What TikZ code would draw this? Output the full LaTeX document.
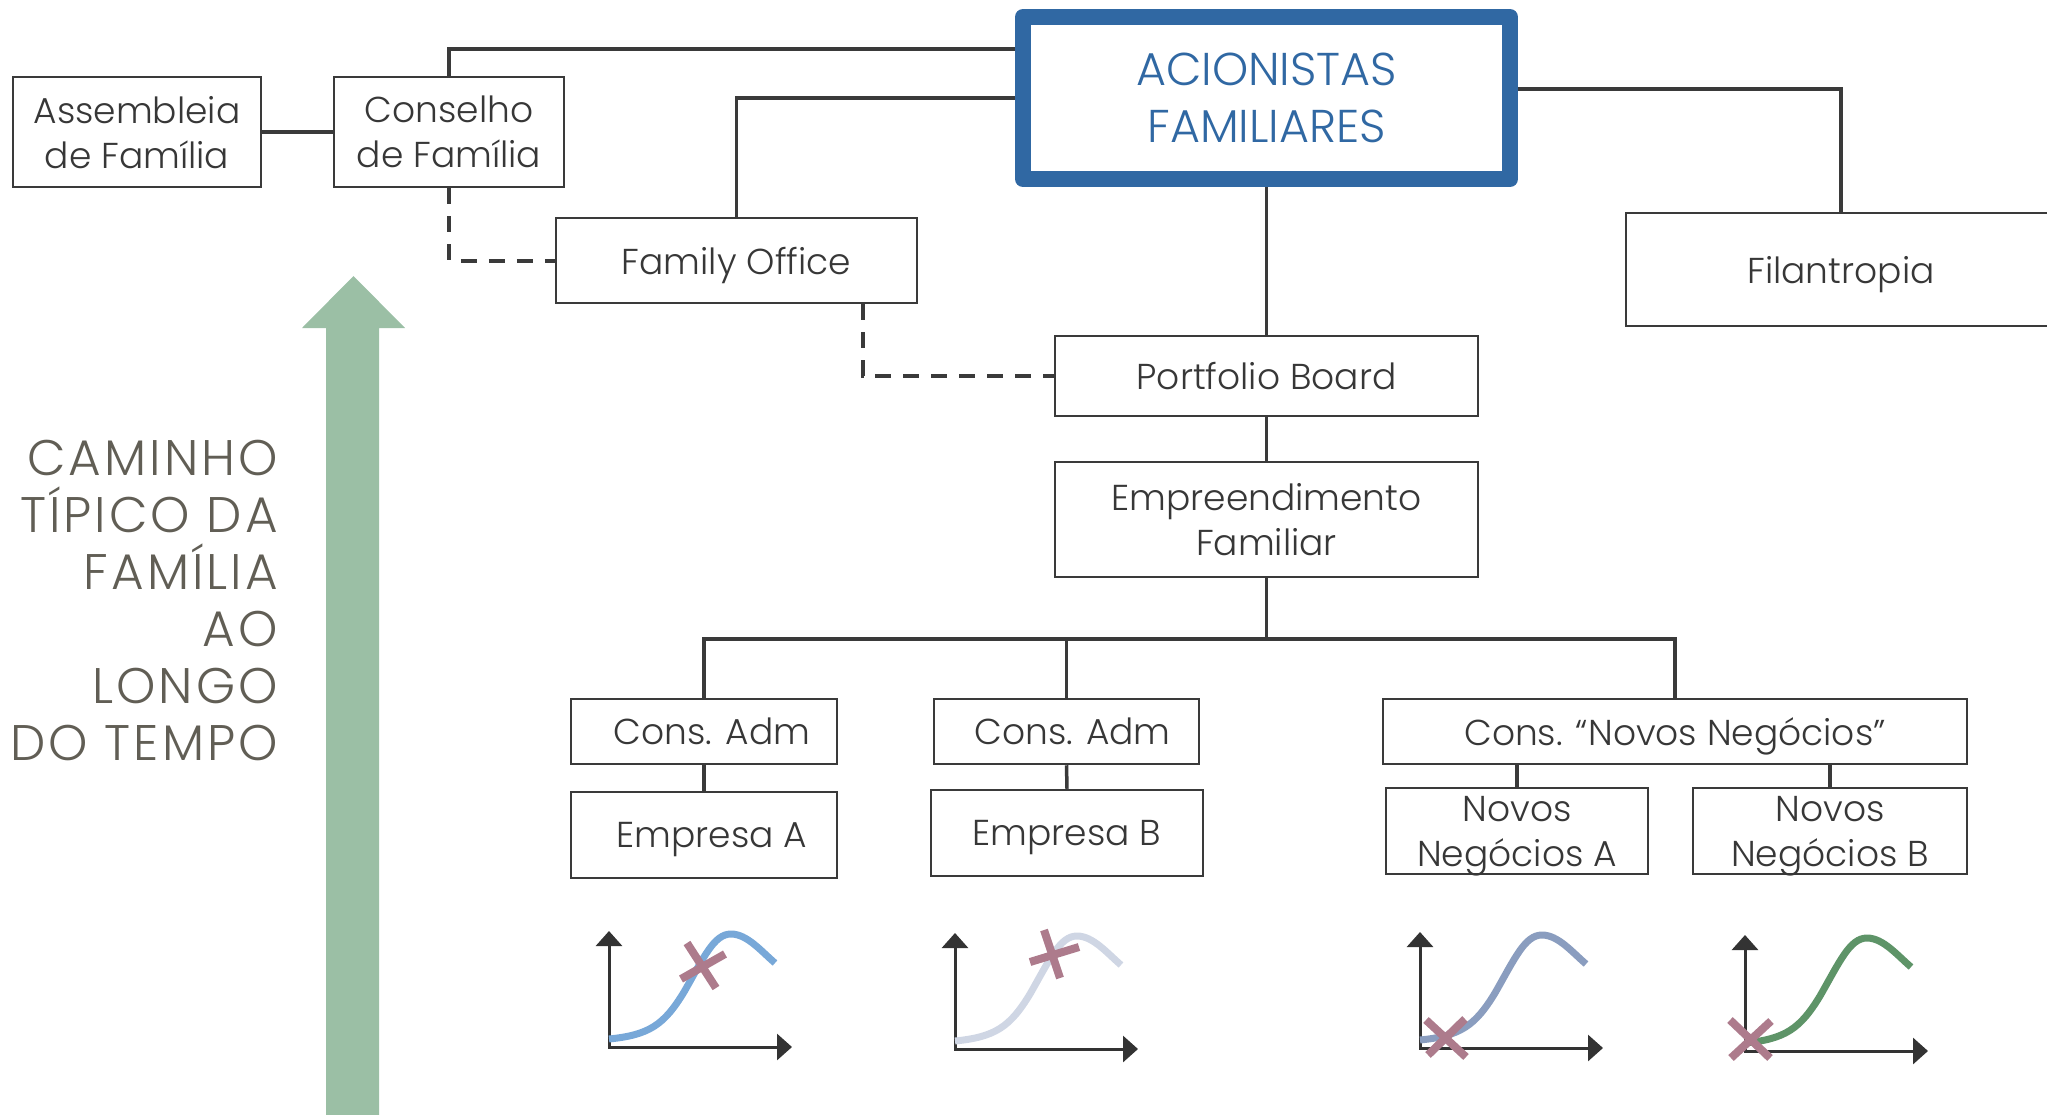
\documentclass[tikz,border=0pt]{standalone}
\usepackage{fontspec}
\setmainfont{Poppins Light}
\newfontfamily\camfont[LetterSpace=6]{Poppins Light}
\usetikzlibrary{arrows.meta,calc}
\definecolor{ln}{RGB}{58,58,58}
\definecolor{txt}{RGB}{55,55,55}
\definecolor{blu}{RGB}{48,104,163}
\definecolor{grn}{RGB}{155,191,165}
\definecolor{gry}{RGB}{97,94,85}
\definecolor{cA}{RGB}{120,168,216}
\definecolor{cB}{RGB}{207,214,228}
\definecolor{cC}{RGB}{138,157,191}
\definecolor{cD}{RGB}{94,148,104}
\definecolor{xm}{RGB}{173,123,140}
\definecolor{ax}{RGB}{51,51,51}
\newcommand\growthchart[3]{%
  \begin{scope}[shift={(#1,#2)}]
    \draw[axis] (0,-116) -- (0,0) -- (183,0);
    \draw[curve, draw=#3] (0,-8) .. controls (40,-12) and (55,-22) .. (75,-55)
      .. controls (95,-90) and (105,-113) .. (122,-113)
      .. controls (138,-113) and (152,-96) .. (166,-84);
  \end{scope}}
\begin{document}
\begin{tikzpicture}[x=1pt,y=-1pt,
  box/.style={draw=ln, line width=2.5pt, fill=white, inner sep=0pt, align=center, text=txt, text depth=0pt, font=\fontsize{36}{45}\selectfont},
  conn/.style={draw=ln, line width=3.5pt},
  dconn/.style={draw=ln, line width=4pt, dash pattern=on 16pt off 12pt},
  axis/.style={draw=ax, line width=3pt, {Triangle[width=26pt,length=15pt]}-{Triangle[width=26pt,length=15pt]}},
  curve/.style={line width=7pt},
  xmark/.style={draw=xm, line width=8pt}]
\useasboundingbox (0,0) rectangle (2047,1114);
\clip (0,0) rectangle (2047,1114);

% green arrow
\fill[grn] (326,1120) -- (326,328) -- (302,328) -- (353.5,276) -- (405,328) -- (379,328) -- (379,1120) -- cycle;
\node[anchor=north east, inner sep=0pt, align=right, text=gry, font=\camfont\fontsize{50}{57}\selectfont] (cam) at (278,440)
  {CAMINHO\\TÍPICO DA\\FAMÍLIA\\AO\\LONGO\\DO TEMPO};

% nodes
\node[box, minimum width=248pt, minimum height=110pt] (assem) at (137,132) {Assembleia\\de Família};
\node[box, minimum width=230pt, minimum height=110pt] (cons) at (449,132) {Conselho\\de Família};
\node[box, minimum width=361pt, minimum height=85pt] (fo) at (736.5,260.5) {Family Office};
\node[draw=blu, line width=16pt, line join=round, fill=white, text=blu, minimum width=487pt, minimum height=162pt, inner sep=0pt, align=center, font=\fontsize{46}{57}\selectfont] (acion) at (1266.5,98) {ACIONISTAS\\FAMILIARES};
\node[box, minimum width=430pt, minimum height=113pt] (fil) at (1841,269.5) {Filantropia};
\node[box, minimum width=423pt, minimum height=80pt] (pb) at (1266.5,376) {Portfolio Board};
\node[box, minimum width=423pt, minimum height=115pt] (emp) at (1266.5,519.5) {Empreendimento\\Familiar};
\node[box, minimum width=266pt, minimum height=65pt] (caA) at (704,731.5) {\hspace*{16pt}Cons. Adm};
\node[box, minimum width=266pt, minimum height=86pt] (eA) at (704,835) {\hspace*{16pt}Empresa A};
\node[box, minimum width=265pt, minimum height=65pt] (caB) at (1066.5,731.5) {\hspace*{12pt}Cons. Adm};
\node[box, minimum width=272pt, minimum height=86pt] (eB) at (1067,833) {Empresa B};
\node[box, minimum width=584pt, minimum height=65pt] (cn) at (1675,731.5) {Cons. “Novos Negócios”};
\node[box, minimum width=262pt, minimum height=86pt] (nA) at (1517,831) {Novos\\Negócios A};
\node[box, minimum width=274pt, minimum height=86pt] (nB) at (1830,831) {Novos\\Negócios B};

% helper coordinates
\coordinate (h1) at (0,49);
\coordinate (h2) at (0,98);
\coordinate (h3) at (0,89);
\coordinate (hb) at (0,639);
\coordinate (dv) at (863,0);

% connectors
\draw[conn] (assem.east) -- (cons.west);
\draw[conn] (cons.north) |- (acion.west |- h1);
\draw[conn] (fo.north) |- (acion.west |- h2);
\draw[conn] (acion.east |- h3) -| (fil.north);
\draw[conn] (acion.south) -- (pb.north);
\draw[conn] (pb.south) -- (emp.north);
\draw[conn] (emp.south) -- (emp.south |- hb);
\draw[conn] (caA.north) |- (cn.north |- hb) -- (cn.north);
\draw[conn] (caB.north) -- (caB.north |- hb);
\draw[conn] (caA.south) -- (eA.north);
\draw[conn] (caB.south) -- (eB.north);
\draw[conn] (nA.north |- cn.south) -- (nA.north);
\draw[conn] (nB.north |- cn.south) -- (nB.north);
\draw[dconn] (cons.south) |- (fo.west);
\draw[dconn] (fo.south -| dv) |- (pb.west);

% charts
\growthchart{609}{1047}{cA}
\growthchart{955}{1049}{cB}
\growthchart{1420}{1048}{cC}
\growthchart{1745}{1051}{cD}

% x marks
\draw[xmark] (687,943) -- (716,988);
\draw[xmark] (681,979) -- (725,954);
\draw[xmark] (1044,930) -- (1060,978);
\draw[xmark] (1030,962) -- (1079,947);
\draw[xmark] (1426,1020) -- (1466,1057);
\draw[xmark] (1428,1055) -- (1465,1019);
\draw[xmark] (1730,1020) -- (1770,1058);
\draw[xmark] (1731,1058) -- (1771,1021);
\end{tikzpicture}
\end{document}
